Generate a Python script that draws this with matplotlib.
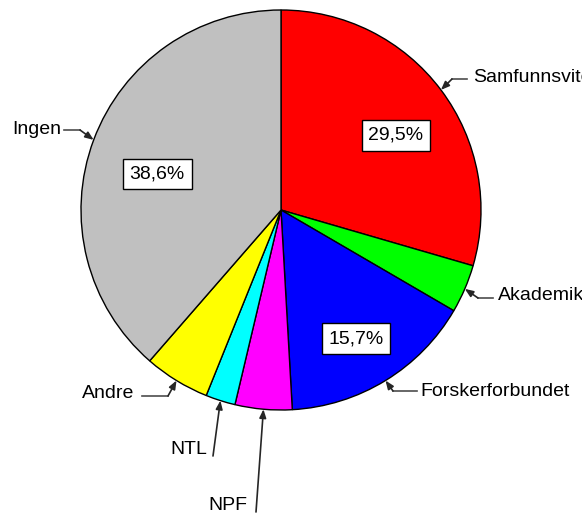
import numpy as np
import matplotlib
matplotlib.use("Agg")
import matplotlib.pyplot as plt

plt.rcParams["font.family"] = ["Liberation Sans", "DejaVu Sans"]

# Data (share of respondents, %)
labels = ["Samfunnsviterne", "Akademikerne", "Forskerforbundet", "NPF", "NTL", "Andre", "Ingen"]
shares = [29.5, 3.9, 15.7, 4.6, 2.4, 5.3, 38.6]
colors = ["#FF0000", "#00FF00", "#0000FF", "#FF00FF", "#00FFFF", "#FFFF00", "#C0C0C0"]
boxed = ["Samfunnsviterne", "Forskerforbundet", "Ingen"]

W, H = 582, 513
cx, cy, R = 281, H - 210, 200

fig = plt.figure(figsize=(W / 100, H / 100), dpi=100)
ax = fig.add_axes([0, 0, 1, 1])

wedges, _ = ax.pie(shares, colors=colors, startangle=90, counterclock=False,
                   center=(cx, cy), radius=R,
                   wedgeprops=dict(edgecolor="black", linewidth=1))
ax.set_xlim(0, W)
ax.set_ylim(0, H)
ax.set_aspect("equal")
ax.axis("off")

# percentage boxes for the big slices: (distance as fraction of R, angle nudge in deg)
pct_pos = {"Samfunnsviterne": (0.685, -3.9),
           "Forskerforbundet": (0.745, -1.3),
           "Ingen": (0.645, 4.3)}
for w, lab, val in zip(wedges, labels, shares):
    if lab not in boxed:
        continue
    frac, nudge = pct_pos[lab]
    mid = np.radians((w.theta1 + w.theta2) / 2 + nudge)
    d = frac * R
    ax.text(cx + d * np.cos(mid), cy + d * np.sin(mid),
            f"{val:.1f}%".replace(".", ","), fontsize=14,
            ha="center", va="center",
            bbox=dict(boxstyle="square,pad=0.35", fc="white", ec="black", lw=1))

# label layout in pixel coords (x, y from top): text pos, alignment, elbow line
layout = {
    "Samfunnsviterne": ((473, 77), "left", [(467, 79), (452, 79)]),
    "Akademikerne": ((498, 296), "left", [(493, 298), (478, 298)]),
    "Forskerforbundet": ((420, 392), "left", [(417, 391), (393, 391)]),
    "NPF": ((228, 506), "center", [(256, 512)]),
    "NTL": ((189, 450), "center", [(213, 456)]),
    "Andre": ((134, 393), "right", [(142, 396), (168, 396)]),
    "Ingen": ((61, 129), "right", [(64, 130), (80, 130)]),
}

for w, lab in zip(wedges, labels):
    (tx, ty), ha, pts = layout[lab]
    ax.text(tx, H - ty, lab, fontsize=14, ha=ha, va="center")
    mid = np.radians((w.theta1 + w.theta2) / 2)
    tip = (cx + R * np.cos(mid), cy + R * np.sin(mid))
    xs = [p[0] for p in pts]
    ys = [H - p[1] for p in pts]
    if len(pts) > 1:
        ax.plot(xs, ys, color="0.3", lw=1.2)
    ax.annotate("", xy=tip, xytext=(xs[-1], ys[-1]),
                arrowprops=dict(arrowstyle="-|>,head_length=0.5,head_width=0.2",
                                color="0.15", lw=1.2, shrinkA=0, shrinkB=0))

fig.savefig("out.png", dpi=100)
